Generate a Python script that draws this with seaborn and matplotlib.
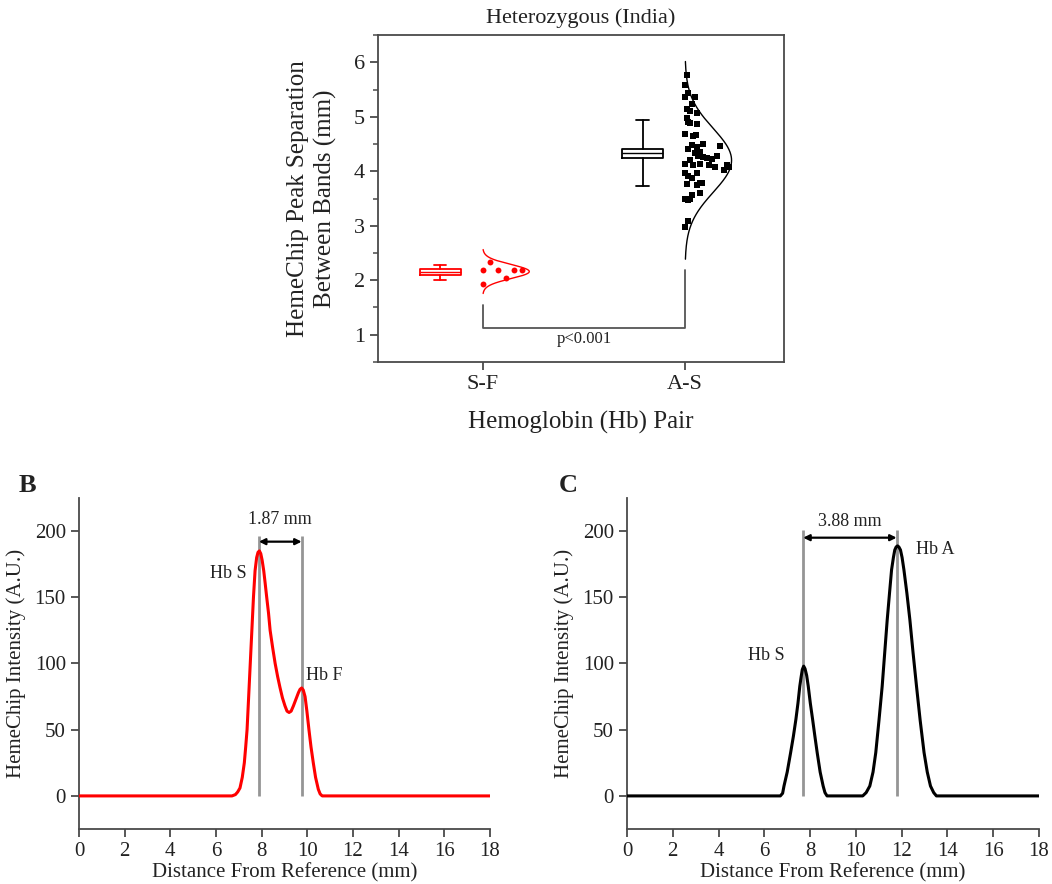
import numpy as np
import pandas as pd
import matplotlib
matplotlib.use("Agg")
import matplotlib.pyplot as plt
from matplotlib.ticker import MultipleLocator
import seaborn as sns

# ---------------- Panel A data ----------------
pairs = ["S-F", "A-S"]
pair_colors = ["#ff0000", "#000000"]

sf_vals = [2.33, 2.18, 2.18, 2.18, 2.18, 2.04, 1.93]
sf_jit = [0.036, 0.0, 0.077, 0.152, 0.193, 0.114, 0.0]

as_vals = [5.76, 5.58, 5.44, 5.37, 5.37, 5.24, 5.15, 5.10, 5.07, 4.97,
           4.91, 4.88, 4.86, 4.68, 4.64, 4.66, 4.48, 4.45, 4.50, 4.40,
           4.46, 4.36, 4.33, 4.28, 4.27, 4.24, 4.22, 4.28, 4.21, 4.13,
           4.11, 4.14, 4.11, 4.08, 4.11, 4.08, 4.02, 3.96, 3.91, 3.87,
           3.96, 3.77, 3.75, 3.78, 3.79, 3.60, 3.56, 3.49, 3.47, 3.50,
           3.08, 2.98]
as_jit = [0.008, 0.0, 0.016, 0.0, 0.05, 0.033, 0.012, 0.025, 0.058, 0.012,
          0.016, 0.025, 0.058, 0.0, 0.041, 0.053, 0.033, 0.058, 0.091, 0.016,
          0.173, 0.074, 0.05, 0.066, 0.091, 0.107, 0.132, 0.157, 0.025, 0.0,
          0.041, 0.074, 0.12, 0.149, 0.206, 0.215, 0.193, 0.0, 0.016, 0.033,
          0.061, 0.008, 0.058, 0.074, 0.083, 0.074, 0.033, 0.0, 0.016, 0.025,
          0.016, 0.0]

# box summaries: lower whisker, Q1, median, Q3, upper whisker
sf_box = [2.01, 2.10, 2.15, 2.21, 2.28]
as_box = [3.73, 4.24, 4.33, 4.41, 4.94]
# fitted normal distribution curves (mean, sd)
sf_fit = [2.16, 0.13]
as_fit = [4.20, 0.585]
p_label = "p<0.001"

# ---------------- Panel B data ----------------
b_x = [0.0, 6.70, 6.85, 6.95, 7.05, 7.15, 7.24, 7.30, 7.36, 7.43, 7.50, 7.57,
       7.64, 7.71, 7.78, 7.84, 7.90, 7.96, 8.02, 8.09, 8.15, 8.22, 8.30, 8.37,
       8.48, 8.59, 8.70, 8.80, 8.91, 9.02, 9.11, 9.20, 9.29, 9.39, 9.50, 9.61,
       9.68, 9.75, 9.82, 9.90, 9.98, 10.07, 10.16, 10.26, 10.36, 10.48, 10.56,
       10.65, 18.0]
b_y = [0, 0, 1, 3, 6, 14, 25, 37, 50, 75, 100, 125,
       150, 170, 180, 184, 185, 183, 178, 170, 161, 150, 138, 125,
       112, 100, 90, 82, 74, 68, 64, 63, 64, 68, 73, 78,
       80.5, 81.5, 80, 75, 64, 50, 37, 25, 14, 5, 1.5,
       0, 0]
b_peaks = [7.88, 9.75]
b_sep = "1.87 mm"
b_names = ["Hb S", "Hb F"]

# ---------------- Panel C data ----------------
c_x = [0.0, 6.70, 6.80, 6.86, 7.00, 7.15, 7.27, 7.38, 7.47, 7.55, 7.61, 7.66,
       7.72, 7.78, 7.85, 7.92, 8.01, 8.11, 8.21, 8.31, 8.44, 8.57, 8.65, 8.74,
       10.30, 10.45, 10.61, 10.75, 10.87, 11.01, 11.15, 11.26, 11.37, 11.47,
       11.56, 11.64, 11.70, 11.76, 11.82, 11.88, 11.95, 12.02, 12.10, 12.23,
       12.36, 12.50, 12.65, 12.81, 12.98, 13.12, 13.26, 13.40, 13.52, 18.0]
c_y = [0, 0, 2, 7.5, 18, 32.7, 45, 57.8, 70, 82.8, 90, 95.4,
       98, 96, 91, 82.8, 70, 57.8, 45, 32.7, 18, 7.5, 2.5, 0,
       0, 2.5, 7.5, 18, 32.7, 57, 82.8, 108, 133, 153,
       170.7, 180, 185.7, 188, 188.8, 188, 185.7, 180, 170.7, 153,
       133, 108, 82.8, 57, 32.7, 18, 7.5, 2.5, 0, 0]
c_peaks = [7.70, 11.78]
c_sep = "3.88 mm"
c_names = ["Hb S", "Hb A"]

# ---------------- Style ----------------
sns.set_theme(style="ticks")
plt.rcParams["font.family"] = ["Liberation Serif", "DejaVu Serif"]
spine_col = "#4a4a4a"
plt.rcParams.update({
    "axes.edgecolor": spine_col,
    "axes.linewidth": 1.3,
    "xtick.color": spine_col,
    "ytick.color": spine_col,
    "xtick.labelcolor": "#222222",
    "ytick.labelcolor": "#222222",
    "xtick.major.width": 1.3,
    "ytick.major.width": 1.3,
    "xtick.minor.width": 1.1,
    "ytick.minor.width": 1.1,
    "xtick.direction": "out",
    "ytick.direction": "out",
    "text.color": "#222222",
    "axes.labelcolor": "#222222",
})

fig = plt.figure(figsize=(10.52, 8.84), dpi=100)
axA = fig.add_axes([0.3593, 0.5905, 0.3859, 0.3699])
axB = fig.add_axes([0.0751, 0.0622, 0.3907, 0.3745])
axC = fig.add_axes([0.5960, 0.0622, 0.3916, 0.3745])

# ---------------- Panel A ----------------
groups = [(sf_vals, sf_jit, sf_box, sf_fit, "o", 18),
          (as_vals, as_jit, as_box, as_fit, "s", 13)]
for i, ((vals, jit, box, fit, mk, ms), col) in enumerate(zip(groups, pair_colors)):
    df = pd.DataFrame({"pos": i + np.asarray(jit), "val": vals})
    sns.scatterplot(data=df, x="pos", y="val", ax=axA, color=col, marker=mk,
                    s=ms, linewidth=0, legend=False, zorder=3)
    mu, sd = fit
    yy = np.linspace(mu - 3.1 * sd, mu + 3.1 * sd, 300)
    dens = np.exp(-0.5 * ((yy - mu) / sd) ** 2)
    axA.plot(i + 0.23 * dens, yy, color=col, lw=1.0, zorder=2)
    stats = [dict(whislo=box[0], q1=box[1], med=box[2], q3=box[3],
                  whishi=box[4], fliers=[])]
    lp = dict(color=col, lw=1.3)
    axA.bxp(stats, positions=[i - 0.21], widths=0.2, capwidths=0.06,
            showfliers=False, boxprops=lp, whiskerprops=lp, capprops=lp,
            medianprops=dict(color=col, lw=1.0), manage_ticks=False)

br_low, br_left, br_right = 1.13, 1.55, 2.19
axA.plot([0, 0, 1, 1], [br_left, br_low, br_low, br_right],
         color="#555555", lw=1.3)
axA.text(0.5, 0.92, p_label, ha="center", va="center", fontsize=12)

axA.set_xlim(-0.518, 1.489)
axA.set_ylim(0.5, 6.5)
axA.set_xticks([0, 1])
axA.set_xticklabels(pairs)
axA.set_yticks([1, 2, 3, 4, 5, 6])
axA.yaxis.set_minor_locator(MultipleLocator(0.5))
axA.tick_params(axis="both", labelsize=16, length=6)
axA.tick_params(axis="y", which="minor", length=3.5)
axA.set_xlabel("Hemoglobin (Hb) Pair", fontsize=18, labelpad=12)
axA.set_ylabel("HemeChip Peak Separation\nBetween Bands (mm)", fontsize=18,
               labelpad=12, linespacing=1.25)
axA.set_title("Heterozygous (India)", fontsize=16, pad=9)
for s in axA.spines.values():
    s.set_visible(True)

# ---------------- Panels B and C ----------------
def trace_panel(ax, xs, ys, col, peaks, sep, names, name_pos, line_top, arrow_y,
                sep_y):
    sns.lineplot(x=xs, y=ys, ax=ax, color=col, lw=2.2, sort=False,
                 estimator=None, zorder=3)
    ax.vlines(peaks, 0, line_top, color="#959595", lw=2.0, zorder=2)
    ax.annotate("", xy=(peaks[1], arrow_y), xytext=(peaks[0], arrow_y),
                arrowprops=dict(arrowstyle="<|-|>", color="black", lw=1.6,
                                mutation_scale=9, shrinkA=0, shrinkB=0))
    ax.text((peaks[0] + peaks[1]) / 2, sep_y, sep, ha="center", va="center",
            fontsize=13)
    for nm, (tx, ty) in zip(names, name_pos):
        ax.text(tx, ty, nm, ha="center", va="center", fontsize=13)
    ax.set_xlim(0, 18)
    ax.set_ylim(-25, 225)
    ax.set_xticks(range(0, 19, 2))
    ax.set_yticks([0, 50, 100, 150, 200])
    ax.tick_params(axis="both", labelsize=15, length=6)
    ax.set_xlabel("Distance From Reference (mm)", fontsize=15, labelpad=1)
    ax.set_ylabel("HemeChip Intensity (A.U.)", fontsize=15, labelpad=6)
    sns.despine(ax=ax)


trace_panel(axB, b_x, b_y, "#ff0000", b_peaks, b_sep, b_names,
            [(6.53, 168), (10.75, 91)], 196, 192, 209)
trace_panel(axC, c_x, c_y, "#000000", c_peaks, c_sep, c_names,
            [(6.1, 106), (13.45, 186)], 201, 195, 207)

fig.text(27 / 1052, 1 - 485 / 884, "B", fontsize=19, fontweight="bold",
         ha="center", va="center")
fig.text(568 / 1052, 1 - 485 / 884, "C", fontsize=19, fontweight="bold",
         ha="center", va="center")

fig.savefig("out.png", dpi=100)
